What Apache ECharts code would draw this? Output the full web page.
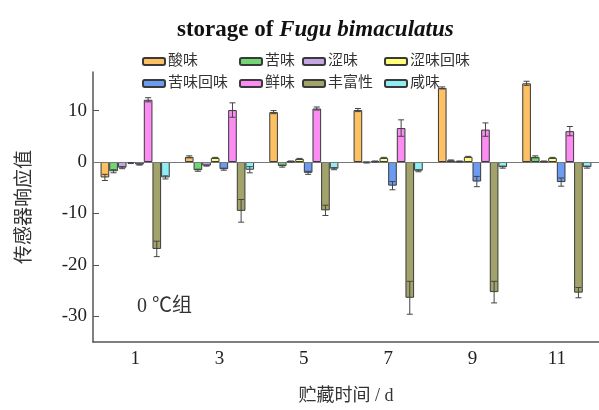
<!DOCTYPE html>
<html><head><meta charset="utf-8">
<script src="https://cdn.jsdelivr.net/npm/echarts@6/dist/echarts.min.js"></script>
<style>html,body{margin:0;padding:0;background:#fff}#c{width:599px;height:410px}</style>
</head><body><div id="c"></div>
<script>
const days = ['1','3','5','7','9','11'];
const names = ['酸味','苦味','涩味','涩味回味','苦味回味','鲜味','丰富性','咸味'];
const colors = ['#FDC062','#72D672','#C4A6E2','#FFFF7A','#6C9CF2','#FA8CF2','#A2A36A','#90EEF2'];
const sour = [-3.0, 1.0, 9.7, 10.1, 14.4, 15.3];
const sourSd = [0.6, 0.2, 0.3, 0.3, 0.2, 0.4];
const bitter = [-1.8, -1.6, -0.8, -0.1, 0.3, 1.0];
const bitterSd = [0.3, 0.2, 0.2, 0.1, 0.1, 0.2];
const astringent = [-1.1, -0.7, 0.1, 0.1, 0.1, 0.1];
const astringentSd = [0.2, 0.1, 0.1, 0.1, 0.1, 0.1];
const aftertasteA = [-0.2, 0.8, 0.6, 0.8, 1.0, 0.8];
const aftertasteASd = [0.1, 0.1, 0.1, 0.1, 0.1, 0.1];
const aftertasteB = [-0.5, -1.4, -2.1, -4.6, -3.8, -3.9];
const aftertasteBSd = [0.1, 0.2, 0.3, 0.8, 1.0, 0.8];
const umami = [12.1, 10.1, 10.4, 6.6, 6.3, 6.0];
const umamiSd = [0.4, 1.4, 0.3, 1.6, 1.3, 0.9];
const richness = [-16.9, -9.5, -9.4, -26.4, -25.3, -25.4];
const richnessSd = [1.5, 2.2, 1.0, 3.2, 2.1, 1.0];
const salty = [-3.0, -1.5, -1.3, -1.7, -1.0, -1.0];
const saltySd = [0.3, 0.6, 0.2, 0.2, 0.2, 0.2];
const yTicks = [-30, -20, -10, 0, 10];

const means = [sour, bitter, astringent, aftertasteA, aftertasteB, umami, richness, salty];
const sds = [sourSd, bitterSd, astringentSd, aftertasteASd, aftertasteBSd, umamiSd, richnessSd, saltySd];
const GAP = 0.18;
const serif = '"Liberation Serif","Noto Sans CJK SC",serif';

const barSeries = names.map((n, k) => ({
  name: n, type: 'bar', data: means[k],
  barGap: '0%', barCategoryGap: (GAP*100)+'%',
  itemStyle: {color: colors[k], borderColor: '#3a3a3a', borderWidth: 1},
  z: 2
}));
barSeries[0].markLine = {
  silent: true, symbol: 'none', label: {show: false},
  lineStyle: {color: '#777', width: 1, type: 'solid'},
  data: [{yAxis: 0}]
};
const errData = [];
means.forEach((arr, k) => arr.forEach((m, i) => errData.push([i, k, m, sds[k][i]])));

const errSeries = {
  type: 'custom', z: 5, silent: true,
  data: errData,
  encode: {x: 0, y: 2},
  renderItem: function (params, api) {
    const ci = api.value(0), k = api.value(1), m = api.value(2), s = api.value(3);
    const band = api.size([1, 0])[0];
    const bw = band * (1 - GAP) / 8;
    const cx = api.coord([ci, m])[0] + (k - 3.5) * bw;
    const yt = api.coord([ci, m + s])[1];
    const yb = api.coord([ci, m - s])[1];
    const hw = 3;
    const st = {stroke: '#444', lineWidth: 1};
    return {type: 'group', children: [
      {type: 'line', shape: {x1: cx, y1: yt, x2: cx, y2: yb}, style: st},
      {type: 'line', shape: {x1: cx - hw, y1: yt, x2: cx + hw, y2: yt}, style: st},
      {type: 'line', shape: {x1: cx - hw, y1: yb, x2: cx + hw, y2: yb}, style: st}
    ]};
  }
};

const legendCols = [[0, 4, 137], [1, 5, 234], [2, 6, 297], [3, 7, 379]];
const legends = legendCols.map(c => ({
  orient: 'vertical', left: c[2], top: 49, itemGap: 7,
  itemWidth: 22, itemHeight: 7,
  data: [names[c[0]], names[c[1]]],
  textStyle: {fontFamily: serif, fontSize: 15, color: '#333', padding: [0, 0, 0, -2]},
  selectedMode: false
}));

const chart = echarts.init(document.getElementById('c'), null, {renderer: 'canvas'});
chart.setOption({
  animation: false,
  title: {
    text: '{a|storage of }{b|Fugu bimaculatus}',
    left: 172, top: 14,
    textStyle: {rich: {
      a: {fontFamily: serif, fontSize: 23, fontWeight: 'bold', color: '#111'},
      b: {fontFamily: serif, fontSize: 23, fontWeight: 'bold', fontStyle: 'italic', color: '#111'}
    }}
  },
  legend: legends,
  grid: {left: 93, top: 72, width: 510, height: 273, containLabel: false},
  xAxis: {
    type: 'category', data: days,
    name: '贮藏时间 / d', nameLocation: 'middle', nameGap: 45,
    nameTextStyle: {fontFamily: serif, fontSize: 18, color: '#333'},
    axisLine: {onZero: false, lineStyle: {color: '#555', width: 1.5}},
    axisTick: {alignWithLabel: true, inside: true, length: 5, lineStyle: {color: '#555'}},
    axisLabel: {fontFamily: serif, fontSize: 19, color: '#222', margin: 8}
  },
  yAxis: {
    type: 'value', min: -35, max: 17.5,
    name: '传感器响应值', nameLocation: 'middle', nameGap: 58, nameRotate: 90,
    nameTextStyle: {fontFamily: serif, fontSize: 19, color: '#333'},
    axisLine: {show: true, lineStyle: {color: '#555', width: 1.5}},
    axisTick: {show: true, inside: true, length: 6, customValues: yTicks, lineStyle: {color: '#555'}},
    axisLabel: {fontFamily: serif, fontSize: 19, color: '#222', margin: 6, customValues: yTicks},
    splitLine: {show: false}
  },
  graphic: [{
    type: 'text', left: 137, top: 297,
    style: {text: '0 ℃组', font: '20px ' + serif, fill: '#333'}
  }],
  series: barSeries.concat([errSeries])
});
</script></body></html>
